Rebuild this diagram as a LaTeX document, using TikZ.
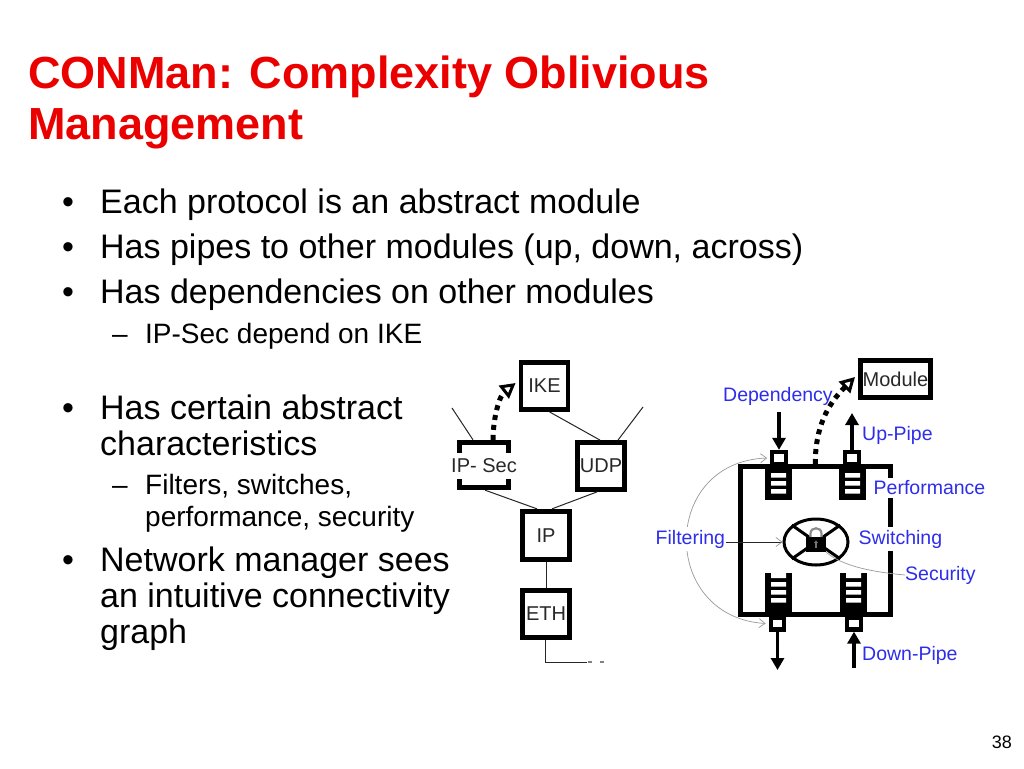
\documentclass[tikz,border=0pt]{standalone}
\usepackage{fontspec}
\setmainfont{Liberation Sans}
\usetikzlibrary{arrows.meta,shapes.geometric,calc}
\definecolor{titlered}{RGB}{235,0,0}
\definecolor{lblue}{RGB}{45,45,235}
\definecolor{boxtext}{RGB}{40,40,40}
\begin{document}
\begin{tikzpicture}[x=1pt,y=-1pt,
  title/.style={anchor=base west,inner sep=0pt,text=titlered,font=\fontsize{45}{54}\selectfont\bfseries},
  body/.style={anchor=base west,inner sep=0pt,font=\fontsize{34}{40}\selectfont},
  subtext/.style={anchor=base west,inner sep=0pt,font=\fontsize{28}{33}\selectfont},
  proto/.style={draw,line width=4.8pt,fill=white,minimum width=47pt,minimum height=47pt,inner sep=0pt,text=boxtext,font=\fontsize{20}{23}\selectfont},
  thinline/.style={line width=1pt,draw=black!85},
  port/.style={draw,line width=4.3pt,fill=white,minimum width=13.5pt,minimum height=12pt,inner sep=0pt},
  lbl/.style={anchor=west,inner sep=0pt,text=lblue,font=\fontsize{19.5}{22}\selectfont},
  lblw/.style={lbl,fill=white,inner ysep=2.5pt,inner xsep=0.5pt},
  pipe/.style={line width=3.8pt,-{Triangle[length=12pt,width=13pt]}},
  depdot/.style={line width=5pt,dash pattern=on 5pt off 5pt,-{Triangle[length=15pt,width=16pt,line width=3pt,fill=white]}},
  greyline/.style={line width=0.7pt,draw=black!40}
]
\useasboundingbox (0,0) rectangle (1024,768);
\fill[white] (0,0) rectangle (1024,768);

% ---------- title ----------
\node[title] (t1) at (28,88) {CONMan: Complexity Oblivious};
\node[title] (t2) at (28,139) {Management};

% ---------- bullets ----------
\node[body] (d1) at (62,213) {•};
\node[body] (b1) at (100,213) {Each protocol is an abstract module};
\node[body] (d2) at (62,258) {•};
\node[body] (b2) at (100,258) {Has pipes to other modules (up, down, across)};
\node[body] (d3) at (62,303) {•};
\node[body] (b3) at (100,303) {Has dependencies on other modules};
\node[subtext] (s1d) at (112,343) {–};
\node[subtext] (s1) at (145,343) {IP-Sec depend on IKE};
\node[body] (d4) at (62,419) {•};
\node[body] (b4a) at (100,419) {Has certain abstract};
\node[body] (b4b) at (100,455) {characteristics};
\node[subtext] (s2d) at (112,494) {–};
\node[subtext] (s2a) at (145,494) {Filters, switches,};
\node[subtext] (s2b) at (145,526) {performance, security};
\node[body] (d5) at (62,571) {•};
\node[body] (b5a) at (100,571) {Network manager sees};
\node[body] (b5b) at (100,607) {an intuitive connectivity};
\node[body] (b5c) at (100,643) {graph};

\node[anchor=base east,inner sep=0pt,font=\fontsize{18}{20}\selectfont] (pg) at (1012,748) {38};

% ---------- protocol stack ----------
\node[proto] (ike) at (544.5,386) {IKE};
\node[proto,minimum width=49.5pt,minimum height=45.5pt] (ipsecbox) at (484,465) {};
\node[fill=white,inner xsep=0.5pt,inner ysep=6pt,text=boxtext,font=\fontsize{20}{23}\selectfont] (ipsec) at (484,466) {IP- Sec};
\node[proto] (udp) at (601,466) {UDP};
\node[proto,minimum height=48.5pt] (ip) at (546,535.5) {IP};
\node[proto] (eth) at (546,614) {ETH};

\coordinate (ul) at (452,408);
\coordinate (ur) at (643,407);
\coordinate (ethend) at (587,662);
\draw[thinline] ($(ike.south)+(5,0)$) -- ($(udp.north)+(-1,0)$);
\draw[thinline] ($(udp.north)+(17,0)$) -- (ur);
\draw[thinline] ($(ipsecbox.north)+(-11,0)$) -- (ul);
\draw[thinline] ($(ipsecbox.south)+(1,0)$) -- ($(ip.north)+(-9,0)$);
\draw[thinline] ($(udp.south)+(-4,0)$) -- ($(ip.north)+(6,0)$);
\draw[thinline] (ip.south) -- (eth.north);
\draw[thinline] ($(eth.south)+(-1,0)$) |- (ethend);
\draw[line width=1.3pt,draw=black!50,dash pattern=on 4pt off 8pt] ($(ethend)+(1,0)$) -- ++(18,0);

\draw[depdot] ($(ipsecbox.north)+(9,0)$) .. controls +(0,-22) and +(-16,12.5) .. ($(ike.west)+(-3,-3)$);

% ---------- module ----------
\node[draw,line width=5pt,minimum width=149.5pt,minimum height=148pt,inner sep=0pt] (mod) at (815.25,540.5) {};

% queues (top)
\fill (765,467) rectangle (792,500);
\fill[white] (771,473) rectangle (786,477.5) (771,481) rectangle (786,485.5) (771,489) rectangle (786,493.5);
\fill (839,467) rectangle (866,500);
\fill[white] (845,473) rectangle (860,477.5) (845,481) rectangle (860,485.5) (845,489) rectangle (860,493.5);
% queues (bottom)
\fill (765,573) rectangle (792,612);
\fill[white] (771,573) rectangle (786,578) (771,582) rectangle (786,586.5) (771,590) rectangle (786,594.5) (771,598) rectangle (786,602.5);
\fill (840,573) rectangle (867,612);
\fill[white] (846,573) rectangle (861,578) (846,582) rectangle (861,586.5) (846,590) rectangle (861,594.5) (846,598) rectangle (861,602.5);

% ports
\node[port] (ptl) at (779,458) {};
\node[port] (ptr) at (852,458) {};
\node[port] (pbl) at (777.5,623.5) {};
\node[port] (pbr) at (854,623.5) {};

% switch with lock
\node[ellipse,draw,line width=3pt,minimum width=64pt,minimum height=46pt,inner sep=0pt] (sw) at (816,542) {};
\draw[line width=3pt] (sw.145) -- (sw.-35);
\draw[line width=3pt] (sw.35) -- (sw.-145);
\node[fill=black,minimum width=20pt,minimum height=15pt,inner sep=0pt] (lock) at (816,544.5) {};
\draw[draw=black!45,line width=2.2pt] (810.5,537) -- (810.5,533.5) .. controls (810.5,526.5) and (821.5,526.5) .. (821.5,533.5) -- (821.5,537);
\fill[black!55] (816,542.5) circle (1.8);
\fill[black!55] (815.2,542.5) rectangle (816.8,548);

% grey filtering arc
\draw[greyline,{Straight Barb[length=6pt,width=9pt,line width=0.7pt]}-{Straight Barb[length=6pt,width=9pt,line width=0.7pt]}] ($(pbl.west)+(-3,0)$) .. controls (660,617) and (660,462) .. ($(ptl.west)+(-3,0)$);

% module box (top right)
\node[draw,line width=5pt,minimum width=70pt,minimum height=37pt,inner sep=0pt,text=boxtext,font=\fontsize{20}{23}\selectfont] (module) at (895.5,379) {Module};

% pipes
\coordinate (depstart) at (779,412);
\coordinate (upend) at (852,413);
\coordinate (downend) at (777.5,670);
\coordinate (dpstart) at (854,668);
\draw[pipe] (depstart) -- (ptl.north);
\draw[pipe] (ptr.north) -- (upend);
\draw[pipe] (pbl.south) -- (downend);
\draw[pipe] (dpstart) -- (pbr.south);

% dependency (dotted)
\draw[depdot] (mod.north) .. controls +(0,-36) and +(-28,28) .. ($(module.west)+(-3,-2)$);

% labels
\node[lbl] (dep) at (723,396) {Dependency};
\node[lbl] (uppipe) at (862,435) {Up-Pipe};
\node[lblw] (perf) at (873,488) {Performance};
\node[lblw] (switching) at (858,539) {Switching};
\node[lbl] (sec) at (905,575) {Security};
\node[lbl] (downpipe) at (862,655) {Down-Pipe};
\node[lblw] (filt) at (655,539) {Filtering};

\draw[line width=0.8pt,draw=black!85,-{Straight Barb[length=6pt,width=9pt,line width=0.7pt,color=black!40]}] (filt.east |- sw.west) -- (sw.west);
\draw[greyline] (sec.west) .. controls (872,572) and (842,566) .. (lock.south east);
\end{tikzpicture}
\end{document}
